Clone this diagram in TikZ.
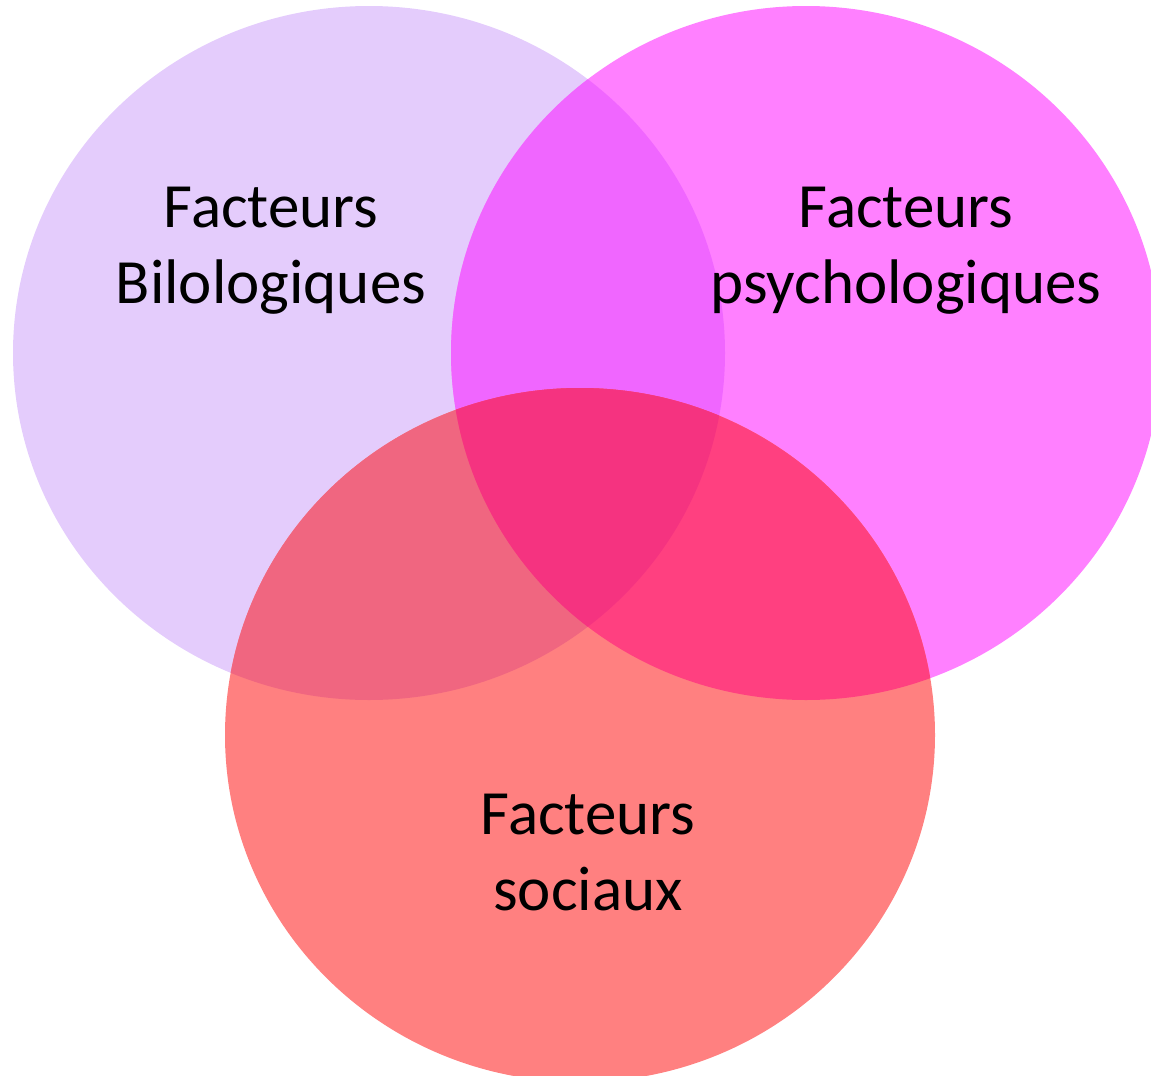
\documentclass[tikz,border=0pt]{standalone}
\usepackage{fontspec}
\setmainfont{Carlito}
\definecolor{bioCol}{HTML}{E4CCFC}
\definecolor{psyCol}{HTML}{FF80FF}
\definecolor{socCol}{HTML}{FF8080}
\definecolor{bioPsyCol}{HTML}{F066FF}
\definecolor{bioSocCol}{HTML}{F06680}
\definecolor{psySocCol}{HTML}{FF4080}
\definecolor{allCol}{HTML}{F53380}
\tikzset{facteur/.style={align=center, font=\fontsize{63}{76}\selectfont, text=black}}
\begin{document}
\begin{tikzpicture}[x=1pt, y=-1pt]
	\def\bio{(369,353) ellipse [x radius=356, y radius=347]}
	\def\psy{(806,353) ellipse [x radius=355, y radius=347]}
	\def\soc{(580,735) ellipse [x radius=355, y radius=347]}
	\useasboundingbox (0,0) rectangle (1151,1076);
	\clip (0,0) rectangle (1151,1076);
	\fill[bioCol] \bio;
	\fill[psyCol] \psy;
	\fill[socCol] \soc;
	\begin{scope}\clip \bio; \fill[bioPsyCol] \psy; \fill[bioSocCol] \soc;\end{scope}
	\begin{scope}\clip \psy; \fill[psySocCol] \soc;\end{scope}
	\begin{scope}\clip \bio; \clip \psy; \fill[allCol] \soc;\end{scope}
	\node[facteur] (bioText) at (271,251) {Facteurs\\Bilologiques};
	\node[facteur] (psyText) at (906,251) {Facteurs\\psychologiques};
	\node[facteur] (socText) at (588,853) {Facteurs\\sociaux};
\end{tikzpicture}
\end{document}
